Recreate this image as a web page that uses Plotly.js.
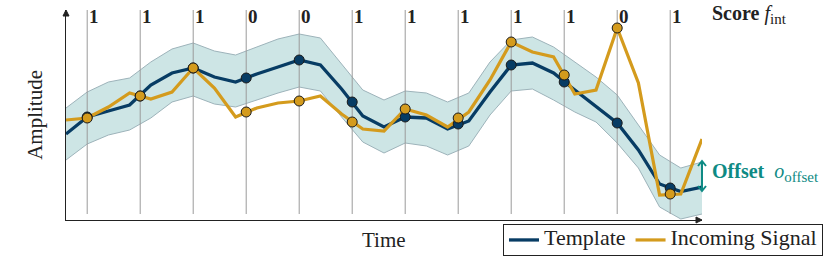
<!DOCTYPE html>
<html>
<head>
<meta charset="utf-8">
<script src="https://cdn.plot.ly/plotly-3.0.1.min.js"></script>
<style>
html,body{margin:0;padding:0;background:#fff;}
#chart{width:831px;height:258px;}
</style>
</head>
<body>
<div id="chart"></div>
<script>
// ---- data ----
const timeGrid = [0,1,2,3,4,5,6,7,8,9,10,11,12,13,14,15,16,17,18,19,20,21,22,23,24,25,26,27,28,29,30];
const template = [86,103,109,115,135,147,152,143,138,146,153,160,155,131,104,93,103,102,91,99,128,155,157,147,130,113,97,70,36,28.5,33];
const bandUpper = [112,128,138,142,158,171,177,169,165,173,181,186,182,156,130,120,129,127,118,127,158,180,183,173,158,143,125,95,65,52,58];
const bandLower = [60,76,85,90,102,118,124,116,113,120,127,133,129,103,78,67,77,74,65,74,105,129,131,120,108,98,77,52,13,1,6];
const signal = [100,102,113,127,121,128,152,132,103,112,117,119,124,106,91,89,111,105,93,108,140,178,168,163,126,130,192,137,25,26,81];
const sampleTimes = [1,3.5,6,8.5,11,13.5,16,18.5,21,23.5,26,28.5];
const templateSamples = [103,124,152,142,160,118,103,96,155,138,97,32];
const signalSamples = [102,124,152,108,119,98,111,102,178,145,192,26];
const scores = ["1","1","1","0","0","1","1","1","1","1","0","1"];
const seriesNames = ["Template", "Incoming Signal"];

// ---- style ----
const NAVY = '#073c64';
const GOLD = '#d49b1d';
const TEAL = '#0e8a84';
const FONT = 'Liberation Serif, Times New Roman, serif';
const INK = '#222';

// plot area in pixels: x 66..702, y 10..220
const PX = 1 / 636, PY = 1 / 210;

const vx = [], vy = [];
sampleTimes.forEach(t => { vx.push(t, t, null); vy.push(6, 210, null); });

const legendName = s => '<span style="font-size:22px">' + s + '</span>';

const traces = [
  {x: timeGrid, y: bandLower, mode: 'lines', line: {color: '#9db3ba', width: 1}, showlegend: false, hoverinfo: 'skip'},
  {x: timeGrid, y: bandUpper, mode: 'lines', line: {color: '#9db3ba', width: 1}, fill: 'tonexty', fillcolor: '#cde5e5', showlegend: false, hoverinfo: 'skip'},
  {x: vx, y: vy, mode: 'lines', line: {color: '#9a9a9a', width: 1}, showlegend: false, hoverinfo: 'skip'},
  {x: timeGrid, y: template, mode: 'lines', name: legendName(seriesNames[0]), line: {color: NAVY, width: 3.3}},
  {x: timeGrid, y: signal, mode: 'lines', name: legendName(seriesNames[1]), line: {color: GOLD, width: 3.2}},
  {x: sampleTimes, y: templateSamples, mode: 'markers', showlegend: false,
   marker: {color: NAVY, size: 10, line: {color: '#1a1a1a', width: 1}}},
  {x: sampleTimes, y: signalSamples, mode: 'markers', showlegend: false,
   marker: {color: GOLD, size: 10, line: {color: '#1a1a1a', width: 1}}}
];

const annotations = sampleTimes.map((t, k) => ({
  x: t, y: 204, xref: 'x', yref: 'y', text: '<b>' + scores[k] + '</b>',
  showarrow: false, xanchor: 'left', yanchor: 'middle', xshift: 0,
  font: {family: FONT, size: 19, color: INK}
}));
annotations.push(
  {x: 1.0126, y: 0.98, xref: 'paper', yref: 'paper', xanchor: 'left', yanchor: 'middle',
   text: '<b>Score</b> <i>f</i><sub><span style="font-size:15px">int</span></sub>', showarrow: false,
   font: {family: FONT, size: 20, color: INK}},
  {x: 1.0126, y: 0.226, xref: 'paper', yref: 'paper', xanchor: 'left', yanchor: 'middle',
   text: '<b>Offset</b>&nbsp; <i>o</i><sub><span style="font-size:15px">offset</span></sub>', showarrow: false,
   font: {family: FONT, size: 20, color: TEAL}},
  {x: 0.5, y: -0.095, xref: 'paper', yref: 'paper', text: 'Time', showarrow: false,
   xanchor: 'center', yanchor: 'middle', font: {family: FONT, size: 21, color: INK}},
  {x: -0.049, y: 0.5, xref: 'paper', yref: 'paper', text: 'Amplitude', showarrow: false,
   textangle: -90, xanchor: 'center', yanchor: 'middle', font: {family: FONT, size: 21, color: INK}}
);

// arrows as shapes (paper coordinates)
const ox = 1.0, oTop = (220 - 161) * PY, oBot = (220 - 191) * PY;
const shapes = [
  {type: 'path', xref: 'paper', yref: 'paper',
   path: `M ${-3*PX} ${1 - 6*PY} L 0 1 L ${3*PX} ${1 - 6*PY} Z`,
   fillcolor: INK, line: {color: INK, width: 1}},
  {type: 'path', xref: 'paper', yref: 'paper',
   path: `M ${1 - 6*PX} ${3*PY} L 1 0 L ${1 - 6*PX} ${-3*PY} Z`,
   fillcolor: INK, line: {color: INK, width: 1}},
  {type: 'line', xref: 'paper', yref: 'paper', x0: ox, x1: ox, y0: oBot + 1*PY, y1: oTop - 1*PY,
   line: {color: TEAL, width: 2}},
  {type: 'path', xref: 'paper', yref: 'paper',
   path: `M ${ox - 4*PX} ${oTop - 5*PY} L ${ox} ${oTop} L ${ox + 4*PX} ${oTop - 5*PY}`,
   line: {color: TEAL, width: 2}},
  {type: 'path', xref: 'paper', yref: 'paper',
   path: `M ${ox - 4*PX} ${oBot + 5*PY} L ${ox} ${oBot} L ${ox + 4*PX} ${oBot + 5*PY}`,
   line: {color: TEAL, width: 2}}
];

const layout = {
  width: 831, height: 258,
  margin: {l: 66, r: 129, t: 10, b: 38},
  paper_bgcolor: '#fff', plot_bgcolor: '#fff',
  showlegend: true,
  legend: {orientation: 'h', traceorder: 'normal',
    xref: 'container', yref: 'container', x: 503 / 831, y: (258 - 224) / 258,
    xanchor: 'left', yanchor: 'top',
    bordercolor: INK, borderwidth: 1, bgcolor: '#fff',
    font: {family: FONT, size: 13, color: INK}, itemwidth: 30},
  xaxis: {range: [0, 30], showgrid: false, zeroline: false, showticklabels: false, ticks: '',
    showline: true, linecolor: INK, linewidth: 1, fixedrange: true},
  yaxis: {range: [0, 210], showgrid: false, zeroline: false, showticklabels: false, ticks: '',
    showline: true, linecolor: INK, linewidth: 1, fixedrange: true},
  annotations: annotations,
  shapes: shapes
};

Plotly.newPlot('chart', traces, layout, {displayModeBar: false, staticPlot: true});
</script>
</body>
</html>
